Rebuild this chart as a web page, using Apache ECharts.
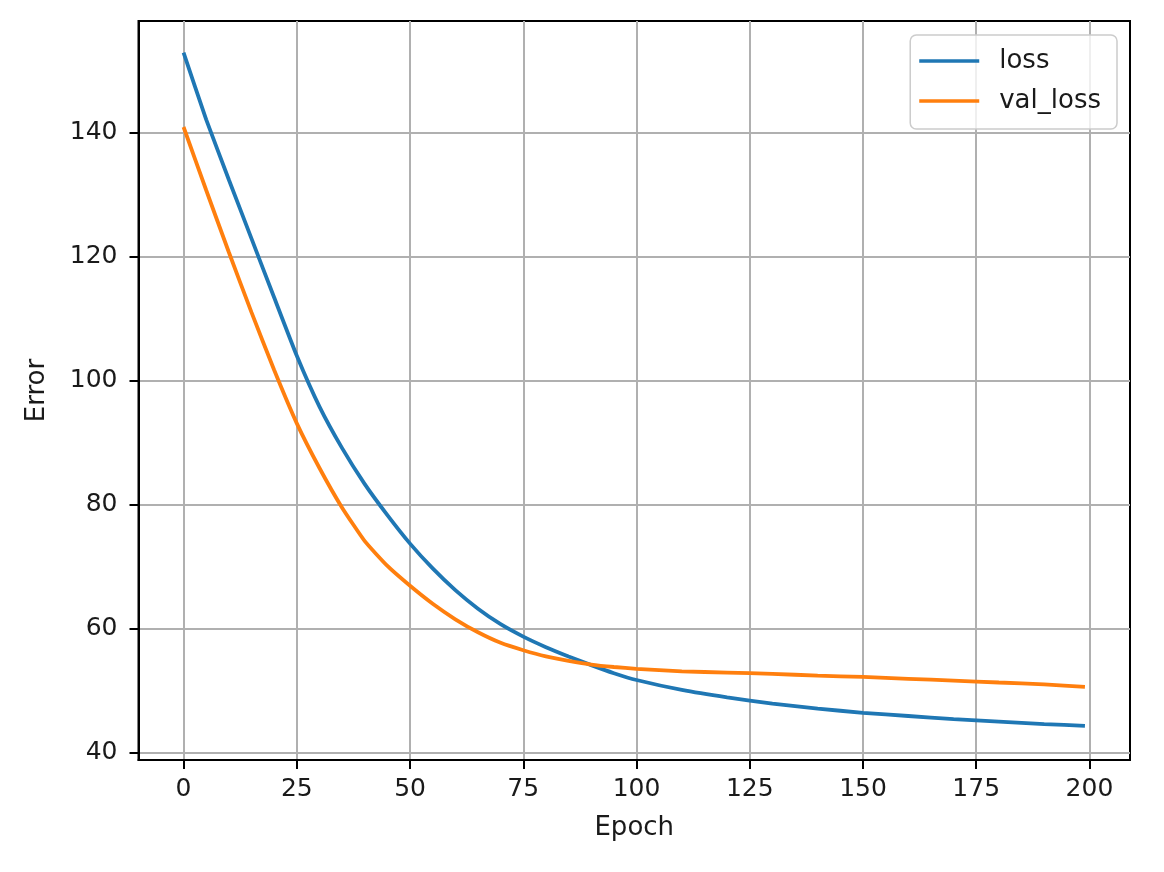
<!DOCTYPE html>
<html>
<head>
<meta charset="utf-8">
<script src="https://cdn.jsdelivr.net/npm/echarts@6/dist/echarts.min.js"></script>
<style>
  html, body { margin: 0; padding: 0; background: #fff; }
  #chart { width: 1164px; height: 872px; }
</style>
</head>
<body>
<div id="chart"></div>
<script>
// values
const epochs = [0, 5, 10, 15, 20, 25, 30, 35, 40, 45, 50, 55, 60, 65, 70, 75, 80, 85, 90, 95, 100,
  110, 120, 130, 140, 150, 160, 170, 180, 190, 199];
const lossValues = [152.9, 142.1, 132.4, 122.9, 113.4, 104.0, 95.8, 89.1, 83.3, 78.3, 73.7,
  69.7, 66.2, 63.2, 60.7, 58.7, 57.0, 55.5, 54.1, 52.8, 51.7,
  50.1, 48.9, 47.9, 47.1, 46.4, 45.9, 45.4, 45.0, 44.6, 44.3];
const valLossValues = [140.9, 130.7, 120.7, 111.0, 101.7, 93.1, 85.9, 79.5, 74.1, 70.1, 66.9,
  64.0, 61.5, 59.4, 57.7, 56.5, 55.5, 54.8, 54.2, 53.8, 53.5,
  53.1, 52.9, 52.7, 52.4, 52.2, 51.9, 51.6, 51.3, 51.0, 50.6];
const xTicks = [0, 25, 50, 75, 100, 125, 150, 175, 200];
const yTicks = [40, 60, 80, 100, 120, 140];

const chart = echarts.init(document.getElementById('chart'));
const font = 'DejaVu Sans';
const textColor = '#1a1a1a';

const toPoints = (vals) => epochs.map((e, i) => [e, vals[i]]);

const option = {
  animation: false,
  backgroundColor: '#fff',
  grid: {
    left: 138.5, right: 34, top: 21, bottom: 112,
    show: true, borderColor: '#000', borderWidth: 2,
    containLabel: false, outerBoundsMode: 'none'
  },
  legend: {
    data: ['loss', 'val_loss'],
    orient: 'vertical',
    align: 'left',
    right: 47, top: 35,
    icon: 'rect',
    itemWidth: 60, itemHeight: 3.5, itemGap: 14,
    padding: [13, 16, 15, 9],
    backgroundColor: 'rgba(255,255,255,0.8)',
    borderColor: '#cccccc', borderWidth: 1.5, borderRadius: 6,
    textStyle: { fontFamily: font, fontSize: 26, color: textColor, padding: [0, 0, 0, 15] }
  },
  xAxis: {
    type: 'value',
    min: -9.95, max: 208.95,
    name: 'Epoch', nameLocation: 'middle', nameGap: 55,
    nameTextStyle: { fontFamily: font, fontSize: 26, color: textColor },
    axisLine: { show: true, onZero: false, lineStyle: { color: '#000', width: 2 } },
    axisTick: { show: true, customValues: xTicks, length: 9, lineStyle: { color: '#000', width: 2 } },
    axisLabel: { customValues: xTicks, margin: 17, fontFamily: font, fontSize: 25, color: textColor },
    splitLine: { show: true, lineStyle: { color: '#b0b0b0', width: 2 } }
  },
  yAxis: {
    type: 'value',
    min: 38.8, max: 158.0,
    name: 'Error', nameLocation: 'middle', nameGap: 88,
    nameTextStyle: { fontFamily: font, fontSize: 26, color: textColor },
    axisLine: { show: true, onZero: false, lineStyle: { color: '#000', width: 2 } },
    axisTick: { show: true, customValues: yTicks, length: 9, lineStyle: { color: '#000', width: 2 } },
    axisLabel: { customValues: yTicks, margin: 21, fontFamily: font, fontSize: 25, color: textColor },
    splitLine: { show: true, lineStyle: { color: '#b0b0b0', width: 2 } }
  },
  series: [
    {
      name: 'loss', type: 'line', data: toPoints(lossValues),
      symbol: 'none', smooth: 0.15,
      color: '#1f77b4', lineStyle: { width: 3.8, color: '#1f77b4' }
    },
    {
      name: 'val_loss', type: 'line', data: toPoints(valLossValues),
      symbol: 'none', smooth: 0.15,
      color: '#ff7f0e', lineStyle: { width: 3.8, color: '#ff7f0e' }
    }
  ]
};

chart.setOption(option);
</script>
</body>
</html>
